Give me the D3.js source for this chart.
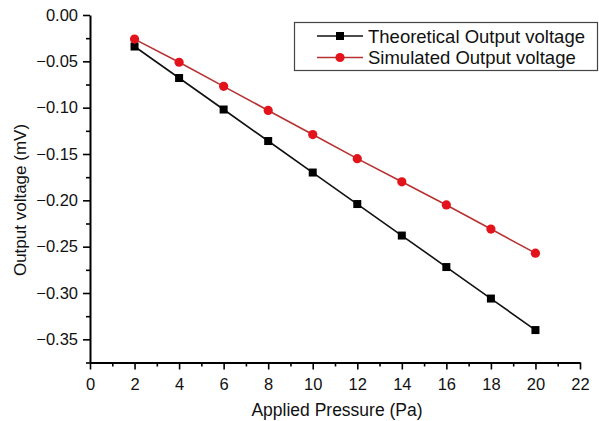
<!DOCTYPE html>
<html>
<head>
<meta charset="UTF-8">
<script src="https://d3js.org/d3.v7.min.js"></script>
<style>
  body { margin: 0; background: #fff; }
  text { font-family: Arial, "Liberation Sans", sans-serif; }
</style>
</head>
<body>
<svg width="599" height="421"></svg>
<script>
  const pressure = [2, 4, 6, 8, 10, 12, 14, 16, 18, 20];
  const theoretical = [-0.034, -0.068, -0.102, -0.136, -0.170, -0.204, -0.238, -0.272, -0.306, -0.340];
  const simulated = [-0.026, -0.051, -0.077, -0.103, -0.129, -0.155, -0.180, -0.205, -0.231, -0.257];
  const xTicks = [0, 2, 4, 6, 8, 10, 12, 14, 16, 18, 20, 22];
  const yTicks = [0, -0.05, -0.10, -0.15, -0.20, -0.25, -0.30, -0.35];
  const seriesNames = ["Theoretical Output voltage", "Simulated Output voltage"];

  const svg = d3.select("svg");
  const x = d3.scaleLinear().domain([0, 22]).range([90, 580]);
  const y = d3.scaleLinear().domain([-0.375, 0]).range([362.5, 15]);

  // minor ticks
  svg.append("g")
    .attr("transform", `translate(0,${y(-0.375)})`)
    .call(d3.axisBottom(x).tickValues(d3.range(1, 22, 2)).tickSize(4).tickFormat(""))
    .call(g => g.select(".domain").remove())
    .selectAll("line").attr("stroke-width", 1.6);
  svg.append("g")
    .attr("transform", `translate(${x(0)},0)`)
    .call(d3.axisLeft(y).tickValues(d3.range(-0.025, -0.376, -0.05)).tickSize(4).tickFormat(""))
    .call(g => g.select(".domain").remove())
    .selectAll("line").attr("stroke-width", 1.6);

  const xAxis = svg.append("g")
    .attr("transform", `translate(0,${y(-0.375)})`)
    .call(d3.axisBottom(x).tickValues(xTicks).tickSize(7).tickSizeOuter(0).tickPadding(6).tickFormat(d3.format("d")));
  const yAxis = svg.append("g")
    .attr("transform", `translate(${x(0)},0)`)
    .call(d3.axisLeft(y).tickValues(yTicks).tickSize(7).tickSizeOuter(0).tickPadding(5).tickFormat(d3.format(".2f")));

  [xAxis, yAxis].forEach(g => {
    g.select(".domain").attr("stroke-width", 2);
    g.selectAll("line").attr("stroke-width", 1.6);
    g.selectAll("text").attr("font-size", 16.5).attr("fill", "#111")
      .attr("font-family", "Arial, 'Liberation Sans', sans-serif");
  });
  xAxis.selectAll("text").attr("dy", "0.9em");

  svg.append("text")
    .attr("x", 337).attr("y", 416)
    .attr("text-anchor", "middle").attr("font-size", 17.5).attr("fill", "#111")
    .text("Applied Pressure (Pa)");
  svg.append("text")
    .attr("transform", `translate(26,200) rotate(-90)`)
    .attr("text-anchor", "middle").attr("font-size", 17).attr("fill", "#111")
    .text("Output voltage (mV)");

  const line = d3.line().x((d, i) => x(pressure[i])).y(d => y(d));

  svg.append("path").datum(theoretical)
    .attr("d", line).attr("fill", "none").attr("stroke", "#111").attr("stroke-width", 1.6);
  svg.append("path").datum(simulated)
    .attr("d", line).attr("fill", "none").attr("stroke", "#b83232").attr("stroke-width", 1.6);

  svg.selectAll(".sq").data(theoretical).enter().append("rect")
    .attr("x", (d, i) => x(pressure[i]) - 4).attr("y", d => y(d) - 4)
    .attr("width", 8).attr("height", 8).attr("fill", "#000");
  svg.selectAll(".ci").data(simulated).enter().append("circle")
    .attr("cx", (d, i) => x(pressure[i])).attr("cy", d => y(d))
    .attr("r", 4.6).attr("fill", "#e3131b");

  // legend
  const lg = svg.append("g");
  lg.append("rect").attr("x", 294.5).attr("y", 22.5).attr("width", 303).attr("height", 48)
    .attr("fill", "#fff").attr("stroke", "#444").attr("stroke-width", 1.2);
  const rows = [
    { name: seriesNames[0], color: "#111", marker: "square", yy: 36 },
    { name: seriesNames[1], color: "#b83232", marker: "circle", yy: 57.5 }
  ];
  rows.forEach(r => {
    lg.append("line").attr("x1", 317).attr("x2", 363).attr("y1", r.yy).attr("y2", r.yy)
      .attr("stroke", r.color).attr("stroke-width", 1.6);
    if (r.marker === "square") {
      lg.append("rect").attr("x", 336).attr("y", r.yy - 4).attr("width", 8).attr("height", 8).attr("fill", "#000");
    } else {
      lg.append("circle").attr("cx", 340).attr("cy", r.yy).attr("r", 4.6).attr("fill", "#e3131b");
    }
    lg.append("text").attr("x", 368).attr("y", r.yy).attr("dy", "0.36em")
      .attr("font-size", 18.5).attr("fill", "#111").text(r.name);
  });
</script>
</body>
</html>
